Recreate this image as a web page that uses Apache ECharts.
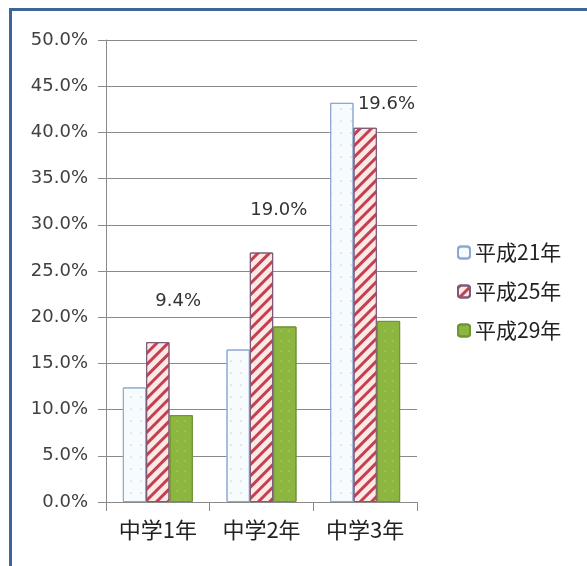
<!DOCTYPE html>
<html>
<head>
<meta charset="utf-8">
<script src="https://cdn.jsdelivr.net/npm/echarts@6/dist/echarts.min.js"></script>
<style>
  html, body { margin: 0; padding: 0; background: #fff; }
  #frame { position: absolute; left: 9px; top: 8px; width: 578px; height: 558px;
           border-left: 3px solid #3d6598; border-top: 3px solid #3d6598; box-sizing: border-box; }
  #chart { position: absolute; left: 0; top: 0; width: 587px; height: 566px; }
</style>
</head>
<body>
<div id="frame"></div>
<div id="chart"></div>
<script>
const categories = ['中学1年', '中学2年', '中学3年'];
const seriesNames = ['平成21年', '平成25年', '平成29年'];
const h21 = [12.4, 16.5, 43.2];
const h25 = [17.3, 27.0, 40.5];
const h29 = [9.4, 19.0, 19.6];
const yTicks = { min: 0, max: 50, interval: 5 };

// manual label placements (offset of label centre from bar top centre)
const labelOffsets = [[-3, -114], [-6, -116], [-2, -217]];

const chart = echarts.init(document.getElementById('chart'));
const cjk = '"Noto Sans CJK JP", "Noto Sans", sans-serif';
const num = '"DejaVu Sans", sans-serif';

const option = {
  animation: false,
  textStyle: { fontFamily: cjk },
  grid: { left: 106, right: 170, top: 40, bottom: 64, containLabel: false },
  legend: {
    orient: 'vertical',
    left: 452, top: 237,
    itemWidth: 12, itemHeight: 12, itemGap: 18,
    textStyle: { fontSize: 21, color: '#222', fontFamily: cjk },
    data: seriesNames
  },
  xAxis: {
    type: 'category',
    data: categories,
    axisLine: { lineStyle: { color: '#8a8a8a', width: 1 } },
    axisTick: { show: true, length: 9, lineStyle: { color: '#8a8a8a' } },
    axisLabel: { fontSize: 22, color: '#222', margin: 17, fontFamily: cjk }
  },
  yAxis: {
    type: 'value',
    min: yTicks.min, max: yTicks.max, interval: yTicks.interval,
    axisLine: { show: true, lineStyle: { color: '#8a8a8a', width: 1 } },
    axisTick: { show: true, length: 8, lineStyle: { color: '#8a8a8a' } },
    splitLine: { lineStyle: { color: '#8a8a8a', width: 1 } },
    axisLabel: { fontSize: 18, color: '#404040', margin: 18, fontFamily: num,
      formatter: v => v.toFixed(1) + '%' }
  },
  series: [
    {
      name: seriesNames[0], type: 'bar', data: h21,
      barGap: '0%', barCategoryGap: '32.5%',
      itemStyle: {
        color: '#f6fbfd', borderColor: '#8ea8d2', borderWidth: 1,
        decal: { symbol: 'circle', symbolSize: 0.5, dashArrayX: [2, 8], dashArrayY: [2, 10], color: '#b8868a' }
      }
    },
    {
      name: seriesNames[1], type: 'bar', data: h25,
      itemStyle: {
        color: '#fbe9e8', borderColor: '#7d5a78', borderWidth: 1,
        decal: { symbol: 'rect', dashArrayX: [1, 0], dashArrayY: [3, 5], rotation: -Math.PI / 4, color: '#c4404f' }
      }
    },
    {
      name: seriesNames[2], type: 'bar', data: h29,
      itemStyle: {
        color: '#8db640', borderColor: '#6f9436', borderWidth: 1,
        decal: { symbol: 'circle', symbolSize: 0.5, dashArrayX: [2, 6], dashArrayY: [2, 8], color: '#e2eb9c' }
      },
      label: {
        show: true, position: 'top', fontSize: 18, color: '#333', fontFamily: num,
        formatter: p => p.value.toFixed(1) + '%'
      },
      labelLayout: function (params) {
        const o = labelOffsets[params.dataIndex];
        const r = params.rect;
        return { x: r.x + r.width / 2 + o[0], y: r.y + o[1], align: 'center', verticalAlign: 'middle' };
      }
    }
  ]
};
chart.setOption(option);
</script>
</body>
</html>
